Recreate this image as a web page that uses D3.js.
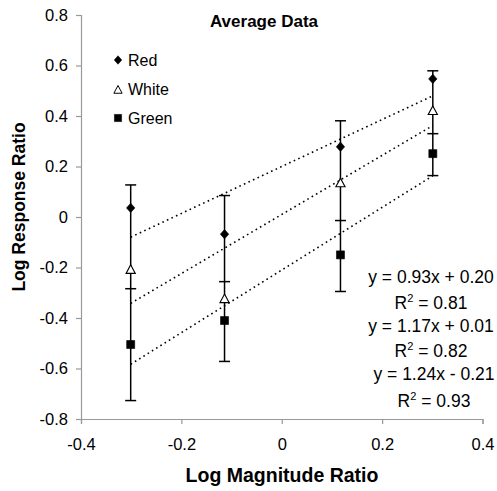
<!DOCTYPE html>
<html>
<head>
<meta charset="utf-8">
<script src="https://cdn.jsdelivr.net/npm/d3@7"></script>
<style>
  body { margin:0; background:#fff; }
  text { font-family:"Liberation Sans", Arial, Helvetica, sans-serif; fill:#000; }
</style>
</head>
<body>
<svg id="chart" width="497" height="491"></svg>
<script>
// Data
var xVals = [-0.301, -0.114, 0.117, 0.301];           // log magnitude ratio
var seriesNames = ["Red", "White", "Green"];
var redVals   = [0.036, -0.068, 0.278, 0.547];
var whiteVals = [-0.209, -0.325, 0.134, 0.420];
var greenVals = [-0.505, -0.410, -0.150, 0.251];
// end of each error bar (one-sided caps as drawn)
var redCaps   = [0.127, 0.085, 0.381, 0.579];
var whiteCaps = [-0.284, -0.256, -0.014, 0.330];
var greenCaps = [-0.727, -0.572, -0.295, 0.164];
// linear trendlines
var slopes     = [0.93, 1.17, 1.24];
var intercepts = [0.20, 0.01, -0.21];
var eqLabels   = ["y = 0.93x + 0.20", "y = 1.17x + 0.01", "y = 1.24x - 0.21"];
var r2Labels   = ["0.81", "0.82", "0.93"];
// axes
var xTicks = [-0.4, -0.2, 0, 0.2, 0.4];
var yTicks = [-0.8, -0.6, -0.4, -0.2, 0, 0.2, 0.4, 0.6, 0.8];

var svg = d3.select("#chart");

// Layout
var plot = { left:81, right:482.5, top:15, bottom:419 };
var axisColor = "#999";

var xScale = d3.scaleLinear().domain([-0.4, 0.4]).range([plot.left, plot.right]);
var yScale = d3.scaleLinear().domain([-0.8, 0.8]).range([plot.bottom, plot.top]);

// marker shapes
var shapePath = function(shape) {
  if (shape == "diamond") return "M0,-4.7L4.2,0L0,4.7L-4.2,0Z";
  if (shape == "triangle") return "M0,-5L4.6,3.6L-4.6,3.6Z";
  return "M-4,-4L4,-4L4,4L-4,4Z";
};
var series = [
  { name:seriesNames[0], vals:redVals,   caps:redCaps,   shape:"diamond",  fill:"#000" },
  { name:seriesNames[1], vals:whiteVals, caps:whiteCaps, shape:"triangle", fill:"#fff" },
  { name:seriesNames[2], vals:greenVals, caps:greenCaps, shape:"square",   fill:"#000" }
];

// tick labels with a plain hyphen, like the original
var tickLabel = function(d) { return String(+d.toFixed(1)); };

// Axes
var yAxis = d3.axisLeft(yScale)
              .tickValues(yTicks)
              .tickSize(5)
              .tickPadding(8)
              .tickFormat(tickLabel);
var xAxis = d3.axisBottom(xScale)
              .tickValues(xTicks)
              .tickSize(5)
              .tickPadding(14)
              .tickFormat(tickLabel);

var gy = svg.append("g")
            .attr("transform", "translate(" + plot.left + ",0)")
            .call(yAxis);
var gx = svg.append("g")
            .attr("transform", "translate(0," + plot.bottom + ")")
            .call(xAxis);
[gx, gy].forEach(function(g) {
  g.select(".domain").attr("stroke", axisColor).attr("stroke-width", 1.2);
  g.selectAll(".tick line").attr("stroke", axisColor).attr("stroke-width", 1.2);
  g.selectAll(".tick text")
   .attr("fill", "#000")
   .style("font-size", "16.5px")
   .style("font-family", "'Liberation Sans', Arial, sans-serif");
});

// Trendlines (dotted)
var xMin = d3.min(xVals), xMax = d3.max(xVals);
svg.append("g").selectAll("line.trend")
   .data(slopes)
   .enter()
   .append("line")
   .attr("class", "trend")
   .attr("x1", xScale(xMin))
   .attr("x2", xScale(xMax))
   .attr("y1", function(d, i) { return yScale(d * xMin + intercepts[i]); })
   .attr("y2", function(d, i) { return yScale(d * xMax + intercepts[i]); })
   .attr("stroke", "#000")
   .attr("stroke-width", 1.6)
   .attr("stroke-dasharray", "1.6,3.4");

// Error bars: one vertical whisker per x, caps at each series' end
var errG = svg.append("g");
xVals.forEach(function(x, i) {
  var ends = [];
  series.forEach(function(s) { ends.push(s.vals[i], s.caps[i]); });
  errG.append("line")
      .attr("x1", xScale(x)).attr("x2", xScale(x))
      .attr("y1", yScale(d3.max(ends))).attr("y2", yScale(d3.min(ends)))
      .attr("stroke", "#000").attr("stroke-width", 1.5);
  series.forEach(function(s) {
    errG.append("line")
        .attr("x1", xScale(x) - 5.5).attr("x2", xScale(x) + 5.5)
        .attr("y1", yScale(s.caps[i])).attr("y2", yScale(s.caps[i]))
        .attr("stroke", "#000").attr("stroke-width", 1.5);
  });
});

// Markers
series.forEach(function(s) {
  svg.append("g").selectAll("path")
     .data(s.vals)
     .enter()
     .append("path")
     .attr("transform", function(d, i) { return "translate(" + xScale(xVals[i]) + "," + yScale(d) + ")"; })
     .attr("d", shapePath(s.shape))
     .attr("fill", s.fill)
     .attr("stroke", "#000")
     .attr("stroke-width", s.shape == "triangle" ? 1.1 : 0.6);
});

// Legend
var legend = svg.append("g").attr("transform", "translate(118,60)");
series.forEach(function(s, i) {
  var row = legend.append("g").attr("transform", "translate(0," + (i * 29) + ")");
  row.append("path")
     .attr("transform", "translate(0," + (s.shape == "triangle" ? 1 : 0) + ") scale(0.9)")
     .attr("d", shapePath(s.shape))
     .attr("fill", s.fill)
     .attr("stroke", "#000")
     .attr("stroke-width", s.shape == "triangle" ? 1.1 : 0.6);
  row.append("text")
     .attr("x", 10)
     .attr("y", 5.5)
     .style("font-size", "16px")
     .text(s.name);
});

// Title
svg.append("text")
   .attr("x", 264)
   .attr("y", 27)
   .attr("text-anchor", "middle")
   .style("font-size", "17px")
   .style("font-weight", "bold")
   .text("Average Data");

// Trendline equations
var eqCenters = [431, 431, 434];
var eqY  = [282.7, 331.7, 380];
var r2Y  = [309.3, 357.3, 406.7];
var eqG = svg.append("g");
eqLabels.forEach(function(lab, i) {
  eqG.append("text")
     .attr("x", eqCenters[i]).attr("y", eqY[i])
     .attr("text-anchor", "middle")
     .style("font-size", "17.5px")
     .text(lab);
  var t = eqG.append("text")
     .attr("x", eqCenters[i]).attr("y", r2Y[i])
     .attr("text-anchor", "middle")
     .style("font-size", "17.5px");
  t.append("tspan").text("R");
  t.append("tspan").attr("dy", -7).style("font-size", "11px").text("2");
  t.append("tspan").attr("dy", 7).text(" = " + r2Labels[i]);
});

// Axis titles
svg.append("text")
   .attr("x", 282)
   .attr("y", 482)
   .attr("text-anchor", "middle")
   .style("font-size", "19.5px")
   .style("font-weight", "bold")
   .text("Log Magnitude Ratio");
svg.append("text")
   .attr("transform", "translate(25,207) rotate(-90)")
   .attr("text-anchor", "middle")
   .style("font-size", "17.5px")
   .style("font-weight", "bold")
   .text("Log Response Ratio");
</script>
</body>
</html>
